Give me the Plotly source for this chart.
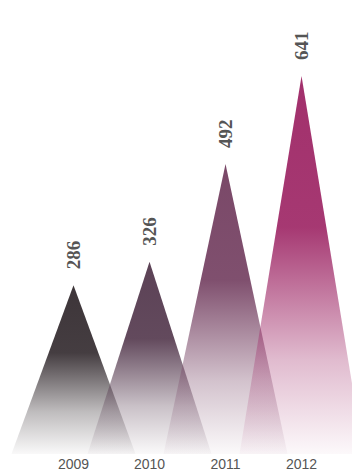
import plotly.graph_objects as go

years = ["2009", "2010", "2011", "2012"]
values = [286, 326, 492, 641]
colors = ["61,53,57", "92,66,86", "122,72,104", "162,48,108"]

HALF = 0.816  # half base width in category units

fig = go.Figure()
for i, (yr, v, c) in enumerate(zip(years, values, colors)):
    fig.add_trace(go.Scatter(
        x=[i - HALF, i, i + HALF, i - HALF],
        y=[0, v, 0, 0],
        mode="lines",
        line=dict(width=0),
        fill="toself",
        fillgradient=dict(
            type="vertical",
            start=0,
            stop=v,
            colorscale=[
                [0.0, f"rgba({c},0.03)"],
                [0.25, f"rgba({c},0.33)"],
                [0.6, f"rgba({c},0.96)"],
                [1.0, f"rgba({c},1)"],
            ],
        ),
        hoverinfo="skip",
        showlegend=False,
    ))
    fig.add_annotation(
        x=i, y=v, text=str(v), showarrow=False,
        textangle=-90, xanchor="center", yanchor="bottom", yshift=14,
        font=dict(family="Liberation Serif", size=19, color="#555555", weight="bold"),
    )

fig.update_layout(
    width=352, height=475,
    margin=dict(l=0, r=0, t=0, b=21),
    paper_bgcolor="white", plot_bgcolor="white",
    xaxis=dict(
        range=[-0.967, 3.664],
        tickvals=list(range(len(years))), ticktext=years,
        showgrid=False, zeroline=False, showline=False, ticks="",
        tickfont=dict(family="Liberation Sans", size=14, color="#555555"),
        fixedrange=True,
    ),
    yaxis=dict(
        range=[0, 770], visible=False, showgrid=False, zeroline=False,
        fixedrange=True,
    ),
)

fig.write_html(
    "out.html",
    config={"displayModeBar": False, "staticPlot": True},
    post_script="document.body.style.margin='0';"
                "document.documentElement.style.overflow='hidden';"
                "document.body.style.overflow='hidden';",
)
